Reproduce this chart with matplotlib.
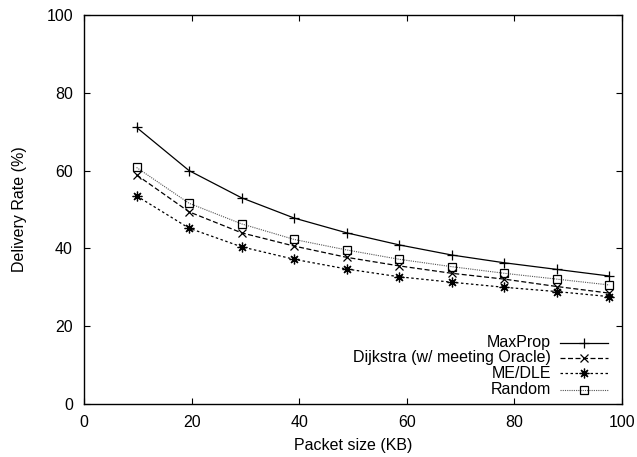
import numpy as np
import matplotlib
matplotlib.use('Agg')
import matplotlib.pyplot as plt

plt.rcParams['font.family'] = ['Liberation Sans', 'DejaVu Sans']

# packet sizes (KB) - 10000..100000 bytes
packet_kb = [9.77, 19.53, 29.30, 39.06, 48.83, 58.59, 68.36, 78.13, 87.89, 97.66]

maxprop  = [71.1, 60.0, 53.0, 47.8, 44.0, 40.9, 38.3, 36.3, 34.6, 32.9]
dijkstra = [58.9, 49.4, 44.0, 40.6, 37.7, 35.5, 33.6, 32.1, 30.2, 28.5]
medle    = [53.5, 45.2, 40.4, 37.2, 34.7, 32.7, 31.3, 30.0, 28.9, 27.6]
rand     = [60.8, 51.6, 46.3, 42.3, 39.6, 37.2, 35.3, 33.6, 32.1, 30.6]

labels = ['MaxProp', 'Dijkstra (w/ meeting Oracle)', 'ME/DLE', 'Random']

styles = [
    dict(color='black', lw=0.9, ls='-', marker='+', ms=7.5, mew=0.9),
    dict(color='black', lw=0.9, ls=(0, (4, 2)), marker='x', ms=6, mew=0.9),
    dict(color='black', lw=0.9, ls=(0, (2, 2)), marker=(8, 2, 0), ms=7, mew=0.9),
    dict(color='#555555', lw=0.8, ls=(0, (1, 1)), marker='s', ms=6, mew=0.9,
         mfc='none', mec='black'),
]

fig = plt.figure(figsize=(6.37, 4.57), dpi=100)
ax = fig.add_axes([84/637, 1-404/457, (622-84)/637, (404-15)/457])

for ys, st in zip([maxprop, dijkstra, medle, rand], styles):
    ax.plot(packet_kb, ys, **st)

ax.set_xlim(0, 100)
ax.set_ylim(0, 100)
ax.set_xticks([0, 20, 40, 60, 80, 100])
ax.set_yticks([0, 20, 40, 60, 80, 100])
ax.tick_params(direction='in', top=True, right=True, length=4, width=0.8,
               labelsize=11.5, pad=8)
for s in ax.spines.values():
    s.set_linewidth(1.0)

ax.set_xlabel('Packet size (KB)', fontsize=11.5, labelpad=6)
ax.set_ylabel('Delivery Rate (%)', fontsize=11.5, labelpad=14)

# gnuplot style key: right-aligned text, sample to the right
row_y = [0.158, 0.119, 0.079, 0.036]
for lab, st, yy in zip(labels, styles, row_y):
    ax.text(0.868, yy, lab, transform=ax.transAxes, ha='right', va='center',
            fontsize=11.5)
    line_st = {k: v for k, v in st.items() if k not in ('marker', 'ms', 'mew', 'mfc', 'mec')}
    ax.plot([0.885, 0.974], [yy, yy], transform=ax.transAxes, clip_on=False, **line_st)
    mk_st = {k: v for k, v in st.items() if k not in ('ls', 'lw')}
    ax.plot([0.9295], [yy], transform=ax.transAxes, clip_on=False, ls='none', **mk_st)

fig.savefig('out.png', dpi=100)
